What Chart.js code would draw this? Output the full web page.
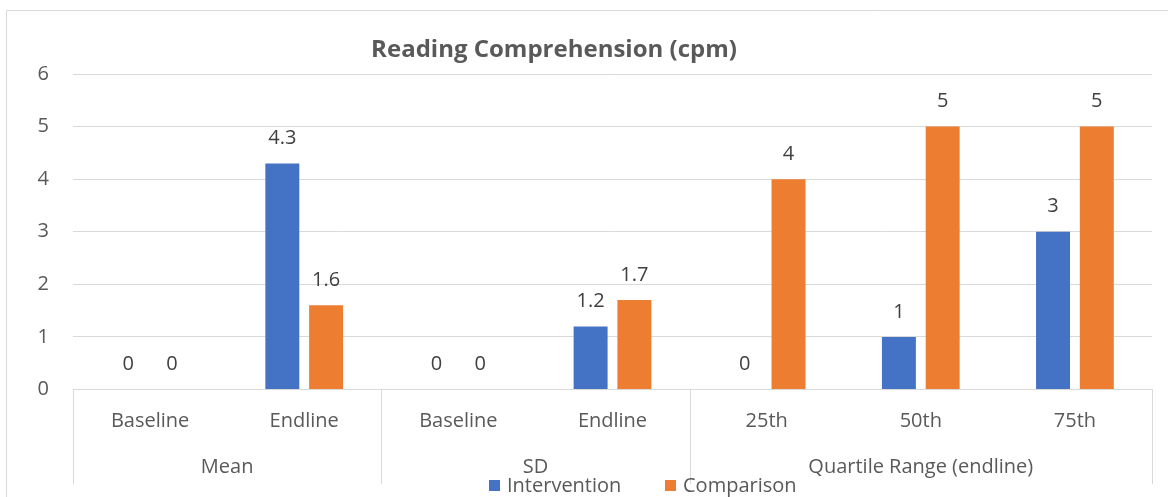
<!DOCTYPE html>
<html>
<head>
<meta charset="utf-8">
<script src="https://cdn.jsdelivr.net/npm/chart.js@4/dist/chart.umd.min.js"></script>
<style>
  html, body { margin: 0; padding: 0; background: #fff; }
  #wrap { width: 1168px; height: 497px; position: relative; }
</style>
</head>
<body>
<div id="wrap"><canvas id="chart"></canvas></div>
<script>
"use strict";
const categories = ["Baseline", "Endline", "Baseline", "Endline", "25th", "50th", "75th"];
const groups = ["Mean", "SD", "Quartile Range (endline)"];
const groupSpans = [2, 2, 3];
const intervention = [0, 4.3, 0, 1.2, 0, 1, 3];
const comparison = [0, 1.6, 0, 1.7, 4, 5, 5];
const seriesNames = ["Intervention", "Comparison"];
const yTicks = [0, 1, 2, 3, 4, 5, 6];

const FONT = "'Open Sans', 'Noto Sans', sans-serif";
const FS = 20;
const BLUE = "#4472C4";
const ORANGE = "#ED7D31";
const LINE = "#d9d9d9";

const decor = {
  id: "decor",
  beforeDraw(chart) {
    const ctx = chart.ctx;
    ctx.save();
    ctx.strokeStyle = LINE;
    ctx.lineWidth = 1;
    ctx.beginPath();
    ctx.moveTo(6.5, 497);
    ctx.lineTo(6.5, 10.5);
    ctx.lineTo(1168, 10.5);
    ctx.stroke();
    ctx.restore();
  },
  afterDraw(chart) {
    const { ctx, chartArea } = chart;
    const x = chart.scales.x;
    ctx.save();

    // title
    ctx.fillStyle = "#595959";
    ctx.font = "bold 24px " + FONT;
    ctx.textAlign = "center";
    ctx.textBaseline = "middle";
    ctx.fillText("Reading Comprehension (cpm)", 554, 50);

    // group separators and labels
    const edge = (i) => {
      if (i <= 0) return chartArea.left;
      if (i >= categories.length) return chartArea.right;
      return (x.getPixelForTick(i - 1) + x.getPixelForTick(i)) / 2;
    };
    ctx.strokeStyle = LINE;
    ctx.lineWidth = 1;
    let start = 0;
    const bounds = [0];
    groupSpans.forEach((n) => { start += n; bounds.push(start); });
    bounds.forEach((b) => {
      const px = Math.round(edge(b)) + 0.5;
      ctx.beginPath();
      ctx.moveTo(px, chartArea.bottom);
      ctx.lineTo(px, 484);
      ctx.stroke();
    });
    ctx.fillStyle = "#595959";
    ctx.font = FS + "px " + FONT;
    groups.forEach((g, i) => {
      const cx = (edge(bounds[i]) + edge(bounds[i + 1])) / 2;
      ctx.fillText(g, cx, 467);
    });

    // data labels
    ctx.fillStyle = "#404040";
    chart.data.datasets.forEach((ds, d) => {
      chart.getDatasetMeta(d).data.forEach((bar, i) => {
        ctx.fillText(String(ds.data[i]), bar.x, bar.y - 25);
      });
    });

    // legend
    const items = [
      { label: seriesNames[0], color: BLUE, x: 489 },
      { label: seriesNames[1], color: ORANGE, x: 665 }
    ];
    ctx.textAlign = "left";
    items.forEach((it) => {
      ctx.fillStyle = it.color;
      ctx.fillRect(it.x, 480, 11, 11);
      ctx.fillStyle = "#595959";
      ctx.fillText(it.label, it.x + 18, 486);
    });
    ctx.restore();
  }
};

new Chart(document.getElementById("chart"), {
  type: "bar",
  data: {
    labels: categories,
    datasets: [
      { label: seriesNames[0], data: intervention, backgroundColor: BLUE },
      { label: seriesNames[1], data: comparison, backgroundColor: ORANGE }
    ]
  },
  options: {
    responsive: true,
    maintainAspectRatio: false,
    animation: false,
    categoryPercentage: 0.568,
    barPercentage: 0.776,
    layout: { padding: { left: 0, top: 74, right: 16, bottom: 0 } },
    plugins: {
      legend: { display: false },
      title: { display: false },
      tooltip: { enabled: false }
    },
    scales: {
      x: {
        grid: { display: false, drawTicks: false },
        border: { display: true, color: LINE, width: 1 },
        ticks: { color: "#595959", font: { family: FONT, size: FS }, padding: 20, maxRotation: 0, autoSkip: false },
        afterFit(scale) { scale.height = 107.5; }
      },
      y: {
        min: 0,
        max: 6,
        afterBuildTicks(scale) { scale.ticks = yTicks.map((v) => ({ value: v })); },
        grid: { color: LINE, drawTicks: false },
        border: { display: false },
        ticks: { color: "#595959", font: { family: FONT, size: FS }, padding: 24 },
        afterFit(scale) { scale.width = 73; }
      }
    }
  },
  plugins: [decor]
});
</script>
</body>
</html>
